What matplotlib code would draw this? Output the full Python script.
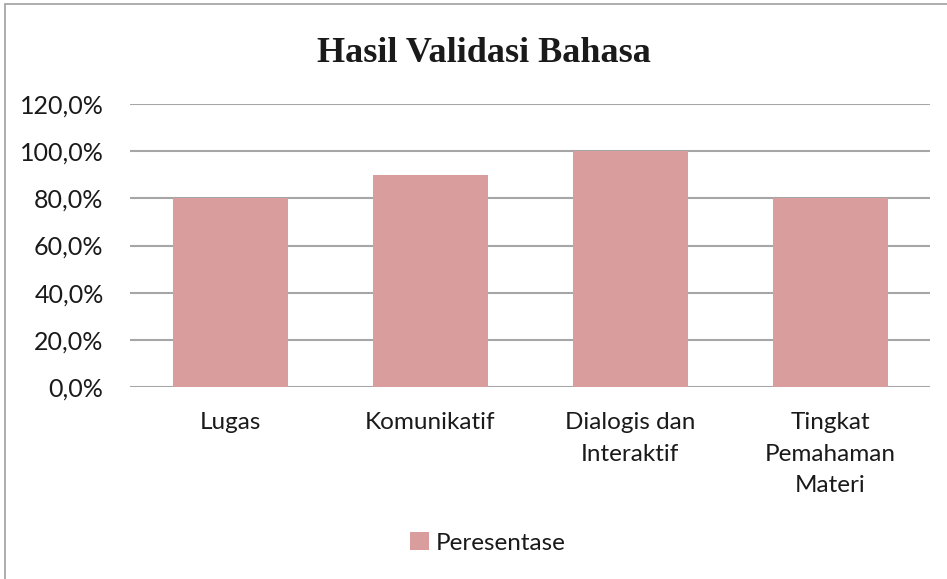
import matplotlib.pyplot as plt
from matplotlib.patches import Rectangle
from matplotlib.ticker import FuncFormatter

# Category labels and percentage scores
categories = ["Lugas", "Komunikatif", "Dialogis dan\nInteraktif", "Tingkat\nPemahaman\nMateri"]
persentase = [80.0, 90.0, 100.0, 80.0]
y_ticks = [0, 20, 40, 60, 80, 100, 120]

BAR_COLOR = "#DA9D9D"
GRID_COLOR = "#A6A6A6"
TEXT_COLOR = "#1A1A1A"

plt.rcParams['font.family'] = ['Lato', 'DejaVu Sans']

fig = plt.figure(figsize=(9.47, 5.79), dpi=100)
ax = fig.add_axes([130 / 947, 1 - 387 / 579, 800 / 947, 283 / 579])

x = range(len(categories))
ax.bar(x, persentase, width=0.575, color=BAR_COLOR, zorder=2, label="Peresentase")

ax.set_xlim(-0.5, len(categories) - 0.5)
ax.set_ylim(0, 120)
ax.set_yticks(y_ticks)
ax.yaxis.set_major_formatter(FuncFormatter(lambda v, _: f"{v:.1f}%".replace(".", ",")))
ax.set_xticks(list(x))
ax.set_xticklabels(categories, linespacing=1.63)

ax.grid(axis='y', color=GRID_COLOR, linewidth=1.5, zorder=1)
for s in ax.spines.values():
    s.set_visible(False)
ax.tick_params(axis='both', length=0, colors=TEXT_COLOR)
ax.tick_params(axis='y', pad=19, labelsize=18)
ax.tick_params(axis='x', pad=18, labelsize=17.5)
for lbl in ax.get_xticklabels():
    lbl.set_verticalalignment('top')
    lbl.set_horizontalalignment('center')
    lbl.set_multialignment('center')

# chart title in a bold serif face
fig.text(484 / 947, 1 - 54 / 579, "Hasil Validasi Bahasa", ha='center', va='center',
         fontsize=26, fontweight='bold', family='Liberation Serif', color=TEXT_COLOR)

leg = fig.legend(loc='center', bbox_to_anchor=(488 / 947, 1 - 543 / 579), frameon=False,
                 fontsize=17.5, handlelength=0.75, handleheight=0.75, handletextpad=0.3)
for t in leg.get_texts():
    t.set_color(TEXT_COLOR)

# light frame around the chart area
fig.patches.append(Rectangle((5 / 947, -0.01), 1.2, 1 - 4 / 579 + 0.01, transform=fig.transFigure,
                             fill=False, edgecolor="#A0A0A0", linewidth=1.2))

fig.savefig("out.png", dpi=100)
